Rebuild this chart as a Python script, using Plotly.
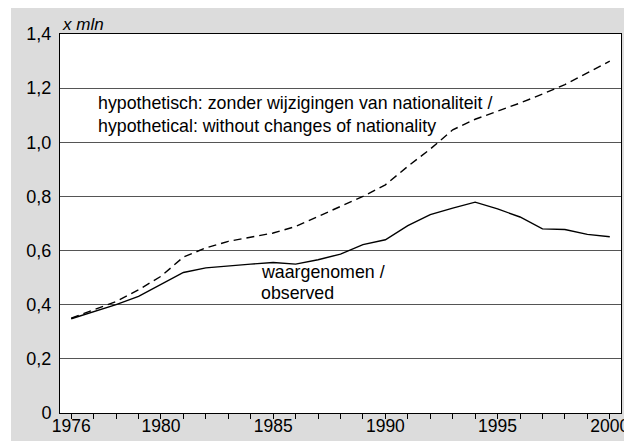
import plotly.graph_objects as go

years = list(range(1976, 2001))
observed = [0.348, 0.375, 0.400, 0.431, 0.474, 0.519, 0.536, 0.544, 0.550, 0.556,
            0.550, 0.566, 0.587, 0.622, 0.640, 0.692, 0.733, 0.757, 0.779, 0.754,
            0.724, 0.680, 0.678, 0.660, 0.651]
hypothetical = [0.350, 0.380, 0.412, 0.455, 0.505, 0.576, 0.610, 0.634, 0.650, 0.665,
                0.689, 0.726, 0.761, 0.800, 0.843, 0.911, 0.975, 1.046, 1.085, 1.114,
                1.145, 1.178, 1.213, 1.256, 1.300]
y_ticks = [0, 0.2, 0.4, 0.6, 0.8, 1.0, 1.2, 1.4]
y_labels = ["0", "0,2", "0,4", "0,6", "0,8", "1,0", "1,2", "1,4"]
x_labeled = [1976, 1980, 1985, 1990, 1995, 2000]

FONT = "Liberation Sans, Arial, Helvetica, sans-serif"
X_RANGE = [1975.5, 2000.5]

fig = go.Figure()
fig.add_trace(go.Scatter(x=years, y=hypothetical, mode="lines",
                         line=dict(color="black", width=1.4, dash="8px,5px"),
                         showlegend=False, hoverinfo="skip"))
fig.add_trace(go.Scatter(x=years, y=observed, mode="lines", xaxis="x2",
                         line=dict(color="black", width=1.4),
                         showlegend=False, hoverinfo="skip"))

# page is offset by the 8px body margin; figure fills the rest of the window
W, H = 624, 433
ml, mr, mt, mb = 52, 11, 26, 28
pw, ph = W - ml - mr, H - mt - mb

def px(xp):
    return (xp - ml) / pw

def py(yp):
    return (H - mb - yp) / ph

shapes = [
    dict(type="rect", xref="paper", yref="paper", x0=px(0), x1=px(3), y0=py(H), y1=py(0),
         fillcolor="white", line=dict(width=0), layer="below"),
]

ann_font = dict(size=17.8, color="black", family=FONT)
annotations = [
    dict(text="<i>x mln</i>", xref="paper", yref="paper", x=0, y=1, xanchor="left",
         yanchor="bottom", xshift=0, yshift=-2, showarrow=False,
         font=dict(size=17, color="black", family=FONT)),
    dict(text="hypothetisch: zonder wijzigingen van nationaliteit /", x=1977.11, y=1.146,
         xanchor="left", yanchor="middle", showarrow=False, font=ann_font),
    dict(text="hypothetical: without changes of nationality", x=1977.11, y=1.061,
         xanchor="left", yanchor="middle", showarrow=False, font=ann_font),
    dict(text="waargenomen /", x=1984.39, y=0.522,
         xanchor="left", yanchor="middle", showarrow=False, font=ann_font),
    dict(text="observed", x=1984.39, y=0.444,
         xanchor="left", yanchor="middle", showarrow=False, font=ann_font),
]

fig.update_layout(
    width=W, height=H,
    margin=dict(l=ml, r=mr, t=mt, b=mb, pad=0, autoexpand=False),
    paper_bgcolor="#dcdcdc",
    plot_bgcolor="white",
    font=dict(family=FONT, size=18, color="black"),
    shapes=shapes,
    annotations=annotations,
    xaxis=dict(
        range=X_RANGE,
        tickmode="array",
        tickvals=years,
        showticklabels=False,
        ticks="outside", ticklen=5, tickwidth=1, tickcolor="black",
        showgrid=False, zeroline=False,
        showline=True, linecolor="black", linewidth=1, mirror=True,
        automargin=False,
        fixedrange=True,
    ),
    xaxis2=dict(
        overlaying="x", side="bottom", anchor="y",
        range=X_RANGE,
        tickmode="array",
        tickvals=x_labeled,
        ticktext=[str(y) for y in x_labeled],
        ticks="", showgrid=False, zeroline=False, showline=False,
        tickfont=dict(size=17.5, family=FONT, color="black"),
        ticklabelstandoff=0,
        automargin=False,
        fixedrange=True,
    ),
    yaxis=dict(
        range=[0, 1.4],
        tickmode="array",
        tickvals=y_ticks,
        ticktext=y_labels,
        ticks="", showgrid=True, gridcolor="#555555", gridwidth=1,
        zeroline=False,
        showline=True, linecolor="black", linewidth=1, mirror=True,
        tickfont=dict(size=18, family=FONT, color="black"),
        ticklabelstandoff=4,
        automargin=False,
        fixedrange=True,
    ),
)

fig.write_html("out.html")
